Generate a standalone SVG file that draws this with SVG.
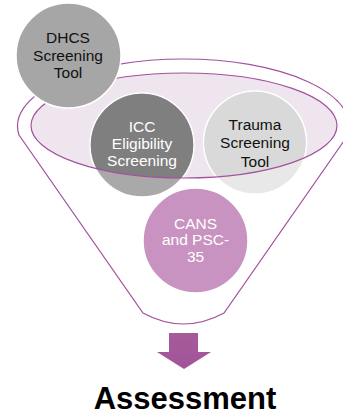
<svg xmlns="http://www.w3.org/2000/svg" width="343" height="415" viewBox="0 0 343 415">
<style>
.ln{fill:none;stroke:#a2529c;stroke-width:1.2}
.c{stroke:#ffffff;stroke-width:1.5}
.t{font-family:"Liberation Sans",Arial,sans-serif;font-size:15.5px;text-anchor:middle}
.k{fill:#111111}
.w{fill:#ffffff}
</style>
<defs>
<clipPath id="ell"><ellipse cx="184" cy="125.5" rx="153" ry="52.5"/></clipPath>
<linearGradient id="ag" x1="0" y1="0" x2="0" y2="1"><stop offset="0" stop-color="#a65b99"/><stop offset="1" stop-color="#a2539a"/></linearGradient>
</defs>
<rect width="343" height="415" fill="#ffffff"/>
<g id="funnel">
<path d="M19,135 A166,67 0 1 1 348,135 L224,313 Q183.5,335 143,313 Z" fill="#ffffff" stroke="#a2529c" stroke-width="1.2"/>
<ellipse cx="184" cy="125.5" rx="153" ry="52.5" fill="#efe5ef"/>
</g>
<g id="icc">
<circle class="c" cx="142" cy="145" r="52" fill="#a9a9a9"/>
<circle cx="142" cy="145" r="51.2" fill="#7f7f7f" clip-path="url(#ell)"/>
</g>
<g id="trauma">
<circle class="c" cx="255" cy="142.5" r="51.5" fill="#e8e8e8"/>
<circle cx="255" cy="142.5" r="50.7" fill="#d9d9d9" clip-path="url(#ell)"/>
</g>
<ellipse class="ln" cx="184" cy="125.5" rx="153" ry="52.5"/>
<g id="dhcs">
<circle class="c" cx="68.5" cy="55.5" r="52.5" fill="#a6a6a6"/>
<text class="t k" x="68" y="43">DHCS</text>
<text class="t k" x="68" y="61">Screening</text>
<text class="t k" x="68" y="78">Tool</text>
</g>
<g id="icc-text">
<text class="t w" x="142" y="131.5">ICC</text>
<text class="t w" x="142" y="148.5">Eligibility</text>
<text class="t w" x="142" y="165.5">Screening</text>
</g>
<g id="trauma-text">
<text class="t k" x="255" y="129.5">Trauma</text>
<text class="t k" x="255" y="148">Screening</text>
<text class="t k" x="255" y="167">Tool</text>
</g>
<g id="cans">
<circle class="c" cx="195.5" cy="240.5" r="52.5" fill="#c993c1"/>
<text class="t w" x="195.5" y="228.5">CANS</text>
<text class="t w" x="195.5" y="245">and PSC-</text>
<text class="t w" x="195.5" y="262">35</text>
</g>
<g id="connectors">
<path d="M169,333 H198 V352 H211 L184,369 L157,352 H169 Z" fill="url(#ag)"/>
</g>
<g id="assessment">
<text x="185" y="409" font-family="'Liberation Sans',Arial,sans-serif" font-weight="bold" font-size="31" text-anchor="middle" fill="#000000">Assessment</text>
</g>
</svg>
